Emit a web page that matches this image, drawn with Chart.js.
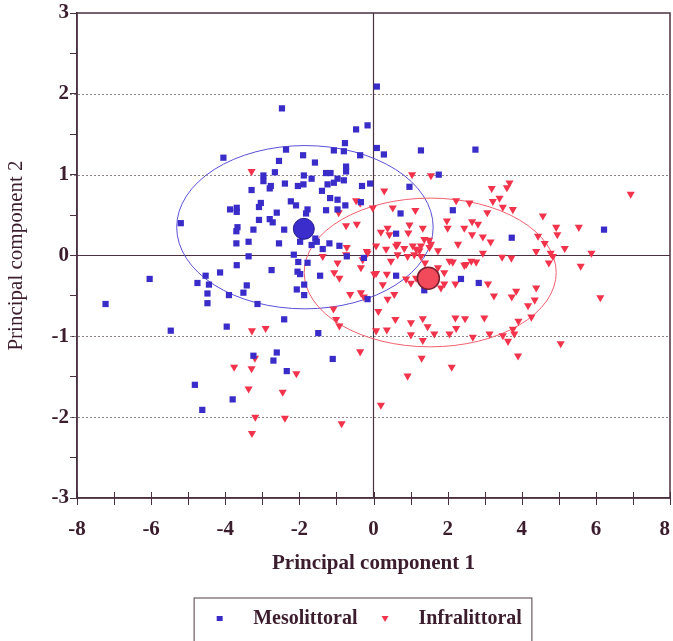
<!DOCTYPE html>
<html><head><meta charset="utf-8">
<script src="https://cdn.jsdelivr.net/npm/chart.js@4/dist/chart.umd.min.js"></script>
<style>html,body{margin:0;padding:0;background:#fff}#wrap{width:673px;height:641px}</style>
</head><body><div id="wrap"><canvas id="c" width="673" height="641"></canvas></div>
<script>
// ---- data ----
const seriesLabels = ['Mesolittoral', 'Infralittoral'];
const mesolittoral = [
[0.09,2.09],[-2.47,1.82],[-0.47,1.56],[-0.16,1.61],[-4.05,1.21],[-2.36,1.31],[-1.9,1.24],[-0.77,1.39],[-1.07,1.30],[-0.8,1.29],[-0.36,1.24],[0.09,1.33],[0.28,1.25],[1.28,1.30],[2.75,1.31],[1.76,1.0],
[-2.55,1.17],[-1.58,1.15],[-0.74,1.10],[-0.74,1.04],[-2.66,1.03],[-2.97,0.99],[-2.97,0.92],[-1.88,0.99],[-1.67,0.95],[-1.28,1.02],[-1.16,1.02],[-0.97,0.95],[-0.8,0.93],[-1.07,0.90],[-1.24,0.88],[-2.77,0.86],[-2.8,0.83],[-2.39,0.89],[-2.04,0.86],[-1.89,0.88],[-3.29,0.81],[-1.39,0.80],[-0.31,0.86],[-0.09,0.89],[0.97,0.85],
[-1.17,0.71],[-0.97,0.69],[-2.23,0.67],[-2.09,0.62],[-1.78,0.57],[-1.82,0.52],[-3.04,0.65],[-3.09,0.60],[-3.87,0.57],[-3.69,0.59],[-3.69,0.54],[-1.28,0.56],[-0.76,0.62],[-0.34,0.66],[-2.61,0.53],[-0.97,0.57],[0.73,0.52],[2.14,0.56],
[-3.09,0.44],[-2.8,0.45],[-2.72,0.41],[-3.67,0.35],[-3.7,0.30],[-3.24,0.32],[-2.41,0.32],[-5.2,0.40],[0.61,0.27],[3.73,0.22],[6.22,0.32],
[-3.7,0.15],[-3.37,0.17],[-2.55,0.15],[-1.98,0.17],[-1.57,0.21],[-1.53,0.17],[-1.67,0.13],[-1.19,0.15],[-0.92,0.12],[-1.37,0.08],
[-3.37,-0.01],[-2.15,0.01],[-0.72,-0.01],[-0.26,-0.03],[-2.03,-0.08],[-1.78,-0.09],[-3.69,-0.12],[-2.75,-0.18],[-2.05,-0.2],[-1.98,-0.23],[-1.44,-0.25],[-4.14,-0.21],[-4.53,-0.25],[-4.75,-0.34],[-4.44,-0.36],[-3.42,-0.37],[-1.87,-0.36],[-6.04,-0.29],[-4.48,-0.47],[-3.9,-0.49],[-3.51,-0.46],[-2.07,-0.42],[-1.87,-0.49],[-4.48,-0.59],[-3.13,-0.6],[-0.16,-0.54],[-7.23,-0.6],[0.61,-0.25],[2.36,-0.29],[2.84,-0.34],[1.37,-0.43],
[-2.41,-0.79],[-3.96,-0.88],[-5.47,-0.93],[-1.49,-0.96],[-2.61,-1.2],[-3.24,-1.24],[-2.7,-1.3],[-1.1,-1.28],[-2.34,-1.43],[-4.82,-1.6],[-3.8,-1.78],[-4.62,-1.91]
];
const infralittoral = [
[-3.29,1.04],[-0.47,0.68],[-0.36,0.65],[-0.02,0.59],[-0.94,0.53],[-0.74,0.37],[-0.45,0.39],[0.07,0.12],[-0.18,0.05],[-1.37,-0.01],
[1.04,1.0],[1.55,0.99],[3.19,0.83],[3.6,0.84],[3.67,0.9],[6.94,0.76],[0.29,0.80],[0.52,0.59],[1.13,0.56],[2.23,0.68],[2.59,0.65],[3.22,0.67],[3.4,0.71],[3.49,0.60],[3.76,0.57],[3.07,0.53],[4.57,0.49],
[0.2,0.29],[0.38,0.34],[0.43,0.26],[0.97,0.38],[1.33,0.34],[0.94,0.28],[1.98,0.43],[2.0,0.34],[2.45,0.34],[2.66,0.42],[2.82,0.39],[2.66,0.26],[2.95,0.23],[3.16,0.17],[4.93,0.35],[4.96,0.26],[5.54,0.35],[4.44,0.24],[4.62,0.15],[5.16,0.09],[5.88,0.03],[4.39,0.05],[4.78,0.03],[4.84,-0.01],
[1.37,0.2],[1.5,0.19],[1.55,0.14],[1.06,0.12],[1.15,0.08],[1.24,0.06],[0.61,0.12],[0.83,0.09],[0.34,0.08],[2.28,0.14],[2.95,0.03],[3.72,-0.03],[-0.29,-0.05],[-0.16,0.03],[-0.72,0.10],[0.65,0.14],[1.28,0.12],[1.51,0.1],[1.74,0.06],[3.47,-0.02],[5.59,-0.13],[4.73,-0.09],
[-0.97,-0.09],[-1.06,-0.21],[-0.92,-0.28],[-0.34,-0.15],[0.07,-0.22],[0.36,-0.23],[0.47,-0.07],[0.65,0.01],[0.92,-0.01],[1.1,0.01],[1.28,-0.01],[1.39,-0.09],[1.74,-0.15],[1.91,-0.21],[2.05,-0.07],[2.14,-0.08],[2.45,-0.12],[2.64,-0.07],[2.77,-0.08],[0.88,-0.29],[1.01,-0.34],[1.15,-0.28],[1.91,-0.35],[1.82,-0.4],[2.21,-0.35],[3.09,-0.35],[3.25,-0.5],[3.73,-0.51],[3.85,-0.44],[4.39,-0.4],[4.17,-0.62],[4.35,-0.55],[4.26,-0.76],[3.91,-0.81],[6.12,-0.52],[0.25,-0.36],[0.56,-0.48],[0.38,-0.54],[-0.63,-0.48],[-0.34,-0.46],[-0.26,-0.51],[0.13,-0.69],[-1.08,-0.66],[-1.01,-0.79],[-0.92,-0.87],[0.59,-0.79],[1.01,-0.83],[1.33,-0.78],[1.46,-0.88],[2.21,-0.77],[2.47,-0.78],[2.99,-0.77],[2.23,-0.9],[0.07,-0.93],[0.36,-0.92],[1.01,-0.98],[1.64,-0.97],[2.05,-0.97],[2.68,-1.01],[3.13,-0.97],[3.49,-0.99],[3.63,-1.06],[3.76,-0.91],[3.8,-0.97],[1.33,-1.05],[-0.36,-1.19],[1.3,-1.27],[3.9,-1.24],[5.05,-1.09],[2.11,-1.38],[0.92,-1.49],[0.2,-1.85],[-0.86,-2.08],
[0.02,-0.23],[-3.28,-0.93],[-2.91,-0.9],[-3.2,-1.27],[-3.76,-1.38],[-3.29,-1.4],[-2.08,-1.46],[-3.37,-1.65],[-2.45,-1.69],[-3.19,-2.0],[-2.39,-2.01],[-3.28,-2.2],[2.5,-0.11],[-0.74,0.01]
];
const mesoCentroid = [-1.88, 0.33];
const infraCentroid = [1.48, -0.28];
const mesoEllipse = [-1.85, 0.35, 3.46, 1.01];   // centre x, centre y, radius x, radius y
const infraEllipse = [1.53, -0.21, 3.40, 0.92];
const xTickLabels = [-8, -6, -4, -2, 0, 2, 4, 6, 8];
const yTickLabels = [-3, -2, -1, 0, 1, 2, 3];
const yGridValues = [-2, -1, 1, 2];

const TXT = '#3b1d2d';
const AX = '#4a3040';
const BLUE = '#3a2cc8';
const RED = '#f2334c';
const SERIF = "'Liberation Serif','Times New Roman',serif";
const toPts = a => a.map(p => ({x: p[0], y: p[1]}));

function legendMarker(kind, color) {
  const c = document.createElement('canvas');
  c.width = 10; c.height = 10;
  const g = c.getContext('2d');
  g.fillStyle = color;
  if (kind === 'sq') { g.fillRect(2, 2, 6, 5); }
  else { g.beginPath(); g.moveTo(1.5, 2); g.lineTo(8.5, 2); g.lineTo(5, 8); g.closePath(); g.fill(); }
  return c;
}
const legendImgs = {2: legendMarker('sq', BLUE), 3: legendMarker('tri', RED)};

const decor = {
  id: 'decor',
  afterLayout(chart) {
    chart.legend.left += 48;
    const ca = chart.chartArea, x = chart.scales.x;
    const target = chart.width - 3;
    if (ca.right !== target) {
      ca.right = target; ca.width = ca.right - ca.left;
      x.right = target; x.width = target - x.left;
      x.configure();
    }
  },
  beforeDatasetsDraw(chart) {
    const {ctx, chartArea: ca, scales: {x, y}} = chart;
    ctx.save();
    ctx.strokeStyle = '#8c8488'; ctx.lineWidth = 1; ctx.setLineDash([2, 2]);
    yGridValues.forEach(v => {
      const py = Math.round(y.getPixelForValue(v)) + 0.5;
      ctx.beginPath(); ctx.moveTo(ca.left - 7, py); ctx.lineTo(ca.right, py); ctx.stroke();
    });
    ctx.setLineDash([]);
    ctx.strokeStyle = AX; ctx.lineWidth = 1.2;
    const y0 = y.getPixelForValue(0), x0 = x.getPixelForValue(0);
    ctx.beginPath(); ctx.moveTo(ca.left, y0); ctx.lineTo(ca.right, y0); ctx.stroke();
    ctx.beginPath(); ctx.moveTo(x0, ca.top); ctx.lineTo(x0, ca.bottom); ctx.stroke();
    ctx.lineWidth = 1;
    for (let v = -8; v <= 8; v++) {
      const px = Math.round(x.getPixelForValue(v)) + 0.5;
      ctx.beginPath(); ctx.moveTo(px, ca.bottom - 6); ctx.lineTo(px, ca.bottom + 7); ctx.stroke();
    }
    ctx.lineWidth = 1.5;
    ctx.strokeRect(ca.left, ca.top, ca.right - ca.left, ca.bottom - ca.top);
    const ell = (e, col) => {
      const cx = x.getPixelForValue(e[0]), cy = y.getPixelForValue(e[1]);
      const rx = Math.abs(x.getPixelForValue(e[0] + e[2]) - cx);
      const ry = Math.abs(y.getPixelForValue(e[1] + e[3]) - cy);
      ctx.strokeStyle = col; ctx.lineWidth = 1;
      ctx.beginPath(); ctx.ellipse(cx, cy, rx, ry, 0, 0, Math.PI * 2); ctx.stroke();
    };
    ell(mesoEllipse, '#5a50d6');
    ell(infraEllipse, '#f0606e');
    ctx.restore();
  },
  afterDraw(chart) {
    const lg = chart.legend;
    if (!lg || !lg.lineWidths) return;
    const pad = lg.options.labels.padding;
    const cx = (lg.left + pad + lg.right - lg.lineWidths[0]) / 2;
    const ctx = chart.ctx;
    ctx.save();
    ctx.strokeStyle = '#6d5c64'; ctx.lineWidth = 1.2;
    ctx.strokeRect(cx - 2, 598, lg.lineWidths[0] - pad + 12, 60);
    ctx.restore();
  }
};

new Chart(document.getElementById('c'), {
  type: 'scatter',
  data: {
    datasets: [
      {label: 'c1', data: toPts([mesoCentroid]), pointStyle: 'circle', pointRadius: 10.5, backgroundColor: '#3b2dcc', borderColor: '#261a8c', borderWidth: 1},
      {label: 'c2', data: toPts([infraCentroid]), pointStyle: 'circle', pointRadius: 11, backgroundColor: '#f24a5a', borderColor: '#7a2030', borderWidth: 1.5},
      {label: seriesLabels[0], data: toPts(mesolittoral), pointStyle: 'rect', pointRadius: 4.4, backgroundColor: BLUE, borderColor: BLUE, borderWidth: 0},
      {label: seriesLabels[1], data: toPts(infralittoral), pointStyle: 'triangle', pointRotation: 180, pointRadius: 4.7, backgroundColor: RED, borderColor: RED, borderWidth: 0}
    ]
  },
  options: {
    responsive: false, animation: false, devicePixelRatio: 1, events: [],
    layout: {padding: {top: 13, right: 3, left: 0, bottom: 2}},
    plugins: {
      tooltip: {enabled: false},
      legend: {
        position: 'bottom',
        labels: {
          generateLabels: chart => Chart.defaults.plugins.legend.labels.generateLabels(chart).map(it => {
            if (legendImgs[it.datasetIndex]) { it.pointStyle = legendImgs[it.datasetIndex]; it.rotation = 0; }
            return it;
          }),
          filter: it => it.datasetIndex >= 2,
          usePointStyle: true, pointStyleWidth: 47, boxHeight: 6, padding: 4,
          color: TXT, font: {family: SERIF, size: 20, weight: 'bold'}
        }
      }
    },
    scales: {
      x: {
        type: 'linear', min: -8, max: 8,
        afterFit: s => { s.height = 107; s.paddingLeft = 0; s.paddingRight = 0; },
        ticks: {stepSize: 1, autoSkip: false, maxRotation: 0, padding: 0,
          callback: v => xTickLabels.includes(v) ? (v === 8 ? '8\u2002' : String(v)) : '',
          color: TXT, font: {family: SERIF, size: 21, weight: 'bold'}},
        grid: {drawOnChartArea: false, tickLength: 19, tickColor: 'rgba(0,0,0,0)', color: 'rgba(0,0,0,0)'},
        border: {color: AX, width: 1.5},
        title: {display: true, text: 'Principal component 1', color: TXT,
          font: {family: SERIF, size: 21, weight: 'bold'}, padding: {top: 0, bottom: 29}}
      },
      y: {
        type: 'linear', min: -3, max: 3,
        afterFit: s => { s.width = 77; s.paddingTop = 0; s.paddingBottom = 0; },
        ticks: {stepSize: 0.5, autoSkip: false, padding: 1,
          callback: v => yTickLabels.includes(v) ? String(v) : '',
          color: TXT, font: {family: SERIF, size: 21, weight: 'bold'}},
        grid: {drawOnChartArea: false, tickLength: 7, tickColor: AX, color: AX},
        border: {color: AX, width: 1.5},
        title: {display: true, text: 'Principal component 2', color: TXT,
          font: {family: SERIF, size: 21, weight: 'normal'}, padding: {top: 4, bottom: 0}}
      }
    }
  },
  plugins: [decor]
});
</script></body></html>
